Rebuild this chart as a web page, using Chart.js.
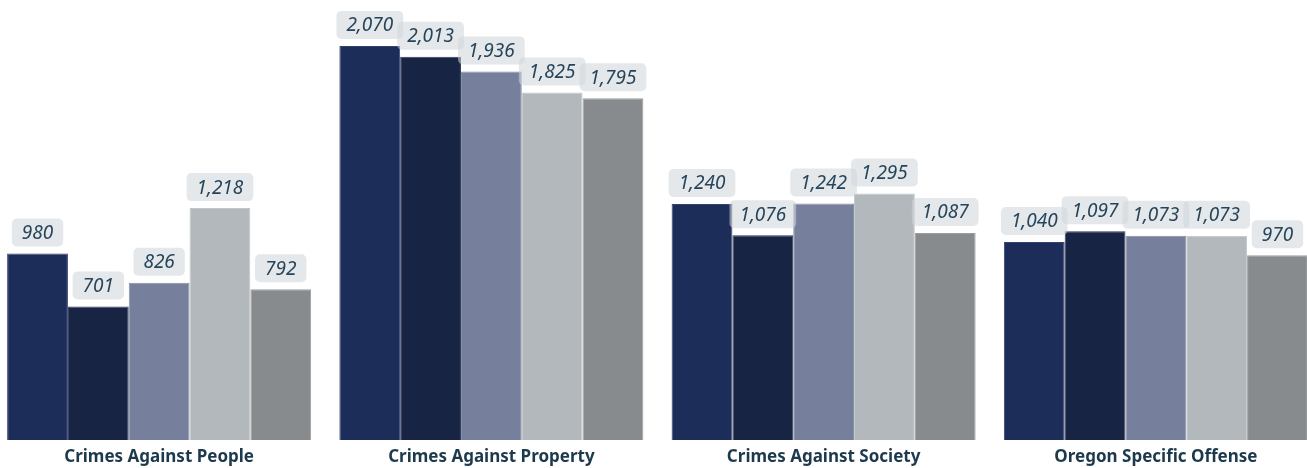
<!DOCTYPE html>
<html>
<head>
<meta charset="utf-8">
<script src="https://cdn.jsdelivr.net/npm/chart.js@4.4.0/dist/chart.umd.min.js"></script>
<style>
  html, body { margin: 0; padding: 0; background: #fff; overflow: hidden; }
  #wrap { position: absolute; left: -7px; top: 0; width: 1329px; height: 468px; }
</style>
</head>
<body>
<div id="wrap"><canvas id="c"></canvas></div>
<script>
const categories = ["Crimes Against People", "Crimes Against Property", "Crimes Against Society", "Oregon Specific Offense"];
const series1 = [980, 2070, 1240, 1040];
const series2 = [701, 2013, 1076, 1097];
const series3 = [826, 1936, 1242, 1073];
const series4 = [1218, 1825, 1295, 1073];
const series5 = [792, 1795, 1087, 970];
const seriesNames = ["Series 1", "Series 2", "Series 3", "Series 4", "Series 5"];
const seriesColors = ["#1d2d5a", "#182444", "#767f9b", "#b2b8bb", "#878b8d"];
const seriesEdges = ["#34426c", "#2f3a58", "#8991a8", "#c2c7c9", "#9a9ea0"];

const allSeries = [series1, series2, series3, series4, series5];

const labelPlugin = {
  id: 'boxLabels',
  afterDatasetsDraw(chart) {
    const ctx = chart.ctx;
    ctx.save();
    ctx.font = 'italic 19px "Noto Sans", "Open Sans", sans-serif';
    ctx.textAlign = 'center';
    ctx.textBaseline = 'middle';
    chart.data.datasets.forEach((ds, di) => {
      const meta = chart.getDatasetMeta(di);
      meta.data.forEach((bar, i) => {
        const txt = ds.data[i].toLocaleString('en-US');
        const w = ctx.measureText(txt).width + 20;
        const h = 28;
        const bx = bar.x - w / 2;
        const by = bar.y - 7 - h;
        ctx.fillStyle = 'rgba(208,214,219,0.55)';
        ctx.beginPath();
        ctx.roundRect(bx, by, w, h, 5);
        ctx.fill();
        ctx.fillStyle = '#26455a';
        ctx.fillText(txt, bar.x, by + h / 2 + 1);
      });
    });
    ctx.restore();
  }
};

new Chart(document.getElementById('c'), {
  type: 'bar',
  data: {
    labels: categories,
    datasets: allSeries.map((s, i) => ({
      label: seriesNames[i],
      data: s,
      backgroundColor: seriesColors[i],
      borderColor: seriesEdges[i],
      borderWidth: 1,
      categoryPercentage: 0.915,
      barPercentage: 1.0
    }))
  },
  options: {
    responsive: true,
    maintainAspectRatio: false,
    animation: false,
    layout: { padding: 0 },
    plugins: { legend: { display: false }, tooltip: { enabled: false } },
    scales: {
      x: {
        grid: { display: false, drawTicks: false },
        border: { display: false },
        ticks: {
          color: '#1c3a4b',
          font: { family: '"Noto Sans", "Open Sans", sans-serif', size: 17, weight: 'bold' },
          padding: 7
        },
        afterFit(scale) { scale.height = 28; }
      },
      y: {
        display: false,
        min: 0,
        max: 2311
      }
    }
  },
  plugins: [labelPlugin]
});
</script>
</body>
</html>
